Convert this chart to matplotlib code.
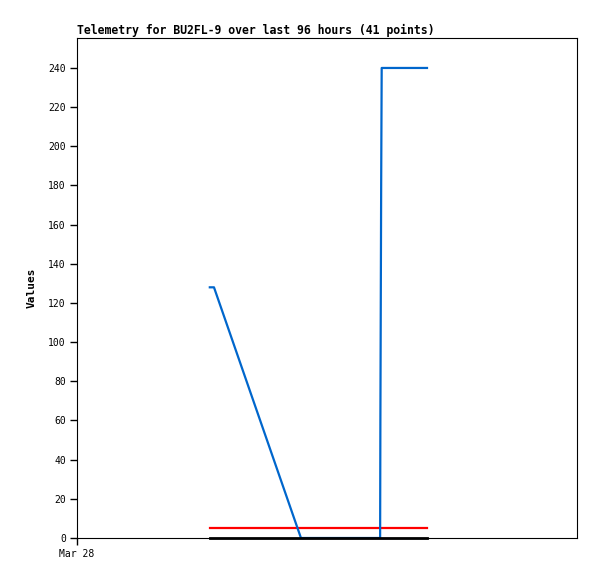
import matplotlib
matplotlib.use("Agg")
import matplotlib.pyplot as plt
from datetime import datetime, timedelta

start = datetime(2024, 3, 28)
# hours after start
blue_hours = [25.5, 26.3, 43.0, 58.2, 58.25, 58.4, 58.5, 67.2]
blue_vals = [128, 128, 0, 0, 60, 180, 240, 240]
red_hours = [25.5, 67.2]
red_vals = [5, 5]
black_hours = [25.5, 67.2]
black_vals = [0, 0]
y_ticks = list(range(0, 241, 20))
x_tick_label = "Mar 28"
title = "Telemetry for BU2FL-9 over last 96 hours (41 points)"

def to_dt(hs):
    return [start + timedelta(hours=h) for h in hs]

fig = plt.figure(figsize=(5.97, 5.79), dpi=100)
ax = fig.add_axes([77/597, 41/579, 500/597, 500/579])
mono = "DejaVu Sans Mono"

ax.plot(to_dt(red_hours), red_vals, color="#ff0000", lw=1.6, zorder=4)
ax.plot(to_dt(blue_hours), blue_vals, color="#0066cc", lw=1.6, zorder=5, clip_on=True)
ax.plot(to_dt(black_hours), black_vals, color="black", lw=2.0, clip_on=False, zorder=6)

ax.set_xlim(start, start + timedelta(hours=96))
ax.set_ylim(0, 255.3)
ax.set_yticks(y_ticks)
ax.set_yticklabels([str(v) for v in y_ticks], family=mono, fontsize=7)
ax.set_xticks([start])
ax.set_xticklabels([x_tick_label], family=mono, fontsize=7)
ax.tick_params(axis="both", direction="out", length=5, width=1, color="black", pad=3)
for s in ax.spines.values():
    s.set_linewidth(0.8)
    s.set_color("black")
ax.set_ylabel("Values", family=mono, fontsize=8, fontweight="bold", labelpad=8)
ax.set_title(title, family=mono, fontsize=8.3, fontweight="bold", loc="left", pad=3)

fig.savefig("out.png", dpi=100, facecolor="white")
